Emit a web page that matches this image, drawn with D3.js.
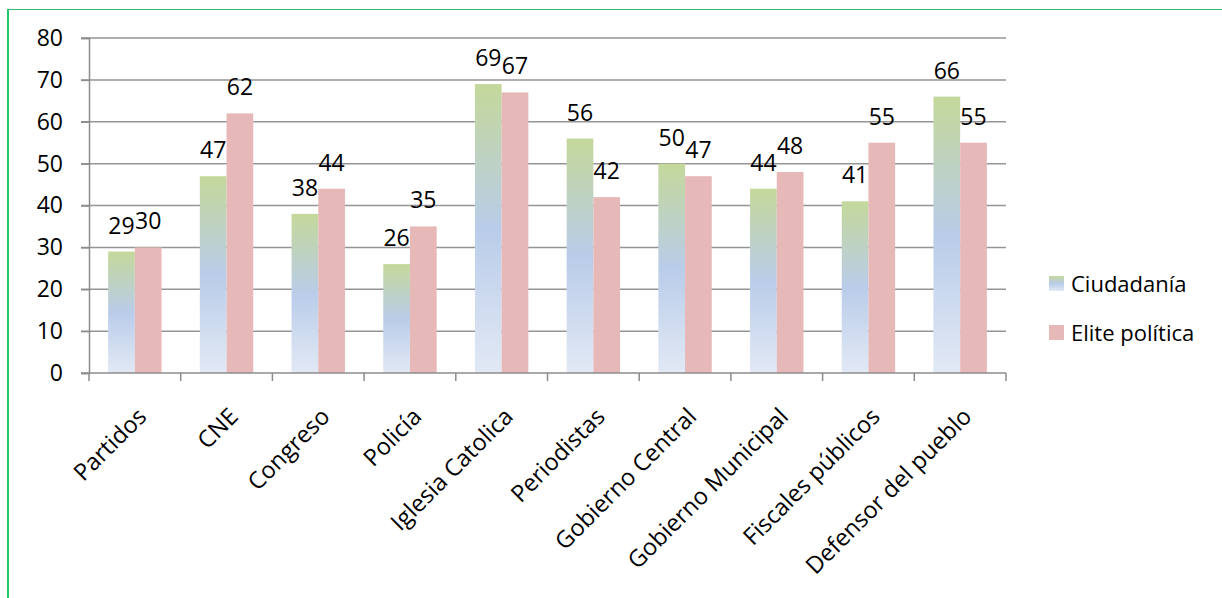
<!DOCTYPE html>
<html><head><meta charset="utf-8">
<script src="https://cdn.jsdelivr.net/npm/d3@7"></script>
<style>
html,body{margin:0;padding:0;background:#fff;}
svg{display:block;font-family:"Open Sans",sans-serif;}
</style></head>
<body>
<svg id="chart" width="1222" height="598"></svg>
<script>
const categories = ["Partidos","CNE","Congreso","Policía","Iglesia Catolica","Periodistas","Gobierno Central","Gobierno Municipal","Fiscales públicos","Defensor del pueblo"];
const seriesNames = ["Ciudadanía","Elite política"];
const ciudadania = [29,47,38,26,69,56,50,44,41,66];
const elite = [30,62,44,35,67,42,47,48,55,55];
const yTicks = [0,10,20,30,40,50,60,70,80];

const svg = d3.select("#chart");
const M = {left:89, right:1006, top:38, bottom:373};

const defs = svg.append("defs");
const grad = defs.append("linearGradient").attr("id","gGreen").attr("x1",0).attr("y1",0).attr("x2",0).attr("y2",1);
grad.append("stop").attr("offset","0").attr("stop-color","#c4d89b");
grad.append("stop").attr("offset","0.5").attr("stop-color","#b9cce9");
grad.append("stop").attr("offset","1").attr("stop-color","#e2e9f5");

// border
svg.append("line").attr("x1",8).attr("x2",1222).attr("y1",9.5).attr("y2",9.5).attr("stroke","#33b870").attr("stroke-width",1);
svg.append("line").attr("x1",8).attr("x2",8).attr("y1",9).attr("y2",598).attr("stroke","#1ec868").attr("stroke-width",2);

const x = d3.scaleBand().domain(categories).range([M.left, M.right]).padding(0);
const x1 = d3.scaleBand().domain(seriesNames).range([0, x.bandwidth()]).paddingInner(0).paddingOuter(0.717);
const y = d3.scaleLinear().domain([0,80]).range([M.bottom, M.top]);

// gridlines
svg.append("g").selectAll("line").data(yTicks.filter(d=>d>0)).join("line")
  .attr("x1",M.left-8).attr("x2",M.right).attr("y1",d=>y(d)).attr("y2",d=>y(d))
  .attr("stroke","#959595").attr("stroke-width",1.5);

// y axis
const yAxis = svg.append("g").attr("transform",`translate(${M.left},0)`)
  .call(d3.axisLeft(y).tickValues(yTicks).tickSize(8).tickPadding(18));
yAxis.select(".domain").attr("stroke","#8c8c8c").attr("stroke-width",1.5);
yAxis.selectAll(".tick line").attr("stroke","#8c8c8c").attr("stroke-width",1.5);
yAxis.selectAll(".tick text").attr("font-size",23).attr("fill","#000").attr("font-family","Open Sans");

// bars
const data = categories.map((c,i)=>({c, vals:[{s:seriesNames[0],v:ciudadania[i]},{s:seriesNames[1],v:elite[i]}]}));
const groups = svg.append("g").selectAll("g").data(data).join("g").attr("transform",d=>`translate(${x(d.c)},0)`);
groups.selectAll("rect").data(d=>d.vals).join("rect")
  .attr("x",d=>x1(d.s)).attr("width",x1.bandwidth())
  .attr("y",d=>y(d.v)).attr("height",d=>y(0)-y(d.v))
  .attr("fill",d=>d.s===seriesNames[0]?"url(#gGreen)":"#e6b8b7");
groups.selectAll("text").data(d=>d.vals).join("text")
  .attr("x",d=>x1(d.s)+x1.bandwidth()/2).attr("y",d=>y(d.v)-18)
  .attr("text-anchor","middle").attr("font-size",23).attr("fill","#000")
  .text(d=>d.v);

// x axis
const xAxisG = svg.append("g").attr("transform",`translate(0,${M.bottom})`);
xAxisG.append("line").attr("x1",M.left-8).attr("x2",M.right).attr("y1",0).attr("y2",0).attr("stroke","#8c8c8c").attr("stroke-width",1.5);
const bounds = categories.map(c=>x(c)).concat([M.right]);
xAxisG.selectAll("line.tk").data(bounds).join("line").attr("class","tk")
  .attr("x1",d=>d).attr("x2",d=>d).attr("y1",0).attr("y2",8).attr("stroke","#8c8c8c").attr("stroke-width",1.5);
xAxisG.selectAll("text").data(categories).join("text")
  .attr("transform",d=>`translate(${x(d)+x.bandwidth()/2+1},${33}) rotate(-45)`)
  .attr("text-anchor","end").attr("dy","0.72em").attr("font-size",23.5).attr("fill","#000")
  .text(d=>d);

// legend
const leg = svg.append("g").selectAll("g").data(seriesNames).join("g")
  .attr("transform",(d,i)=>`translate(1049,${276+i*49})`);
leg.append("rect").attr("width",15).attr("height",15)
  .attr("fill",(d,i)=>i===0?"url(#gGreen)":"#e6b8b7");
leg.append("text").attr("x",22).attr("y",16).attr("font-size",22).attr("fill","#000").text(d=>d);
</script>
</body></html>
